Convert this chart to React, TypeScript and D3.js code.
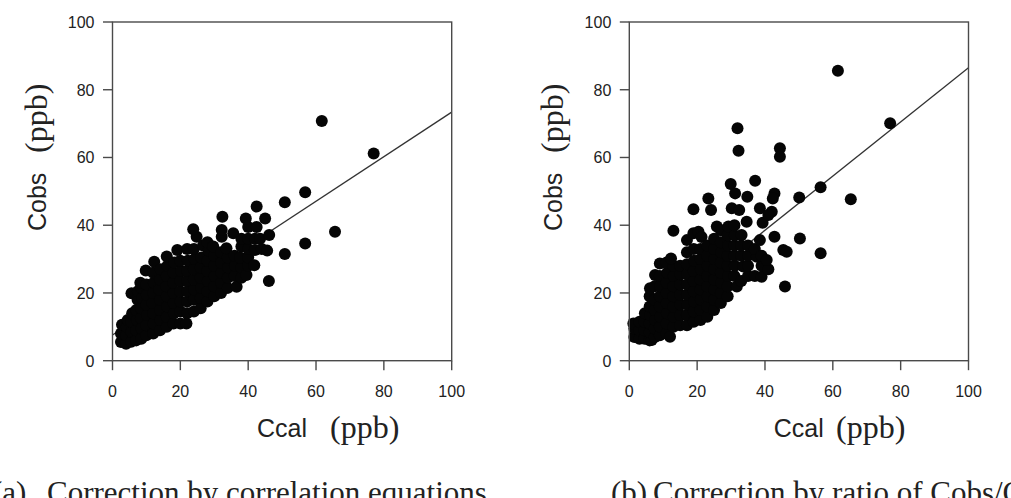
import React from "react";
import * as d3 from "d3";

// ---------- data ----------
const xTicks = [0, 20, 40, 60, 80, 100];
const yTicks = [0, 20, 40, 60, 80, 100];

// Panel (a): Correction by correlation equations  [Ccal, Cobs]
const panelAPoints: [number, number][] = [
  [2.5, 5.5], [2.5, 8], [2.8, 10.6], [4, 5], [4, 7.5], [4.2, 10], [4.5, 12],
  [5.5, 5.6], [5.6, 8.5], [5.5, 11.5], [5.8, 14], [5.6, 19.9],
  [7, 6], [7, 9], [7.2, 12], [7, 15], [7.4, 18], [7.5, 20.5],
  [8.5, 6.5], [8.6, 9.5], [8.4, 12.5], [8.5, 15.5], [8.7, 18.5], [8.5, 21.5], [8.2, 23],
  [10, 7.5], [10, 10.5], [10.2, 13.5], [10, 16.5], [10.1, 19.5], [10, 22.5], [9.8, 26.6],
  [12, 8], [12.1, 11], [12, 14], [11.8, 17], [12, 20], [12.2, 23], [12, 26], [12.3, 29.2],
  [14, 9], [14.1, 12], [14, 15], [14, 18], [13.8, 21], [14, 24], [14.2, 27],
  [16, 10], [16, 13], [16.1, 16], [16, 19], [15.9, 22], [16, 25], [16.2, 28], [16, 30.8],
  [18, 11], [18.1, 14], [18, 17], [18, 20], [17.9, 23], [18, 26], [18.2, 29], [19.1, 32.7],
  [20, 11], [20, 14.5], [20.1, 17.5], [20, 20.5], [20, 23.5], [20.2, 26.5], [20, 29.5],
  [21.8, 11], [22, 14], [22, 17.5], [22.1, 20.5], [22, 23.5], [22, 26.5], [22.2, 29.5], [22, 33],
  [24, 14.5], [24, 18], [24.1, 21], [24, 24], [24, 27], [24.2, 30], [24, 33], [24.8, 36.6], [23.8, 38.8],
  [26, 15.5], [26, 18.5], [26.1, 21.5], [26, 24.5], [26, 27.5], [26.2, 30.5], [26.7, 34],
  [28, 17.5], [28, 20.5], [28.1, 23.5], [28, 26.5], [28, 29.5], [28.3, 32.5], [28, 35],
  [30, 19], [30, 22], [30.1, 25], [30, 28], [30, 31], [29.7, 33.7],
  [32, 20], [32, 23], [32.1, 26], [32, 29], [32, 32], [32.2, 36.6], [32.2, 38.6], [32.4, 42.5],
  [34, 21.5], [34, 24.5], [34.1, 27.5], [34, 30.5], [33.6, 33.2], [35.6, 37.6],
  [36.6, 21.8], [36, 25], [36.1, 28], [36, 31],
  [38, 24.5], [38, 27.5], [37.6, 30.5], [38, 33.7], [38, 36],
  [39.5, 25.3], [40, 28], [40, 30.5], [40, 33], [40, 36], [40, 39.5], [39.3, 42],
  [41.8, 28.2], [42, 32.7], [42, 36], [42.5, 39.5], [42.5, 45.5],
  [43.5, 36], [44, 33], [45, 42], [45.6, 32.5], [46.2, 37.1], [46.1, 23.5],
  [50.8, 46.8], [50.8, 31.5], [56.8, 49.7], [56.8, 34.6], [61.7, 70.8], [65.6, 38.1], [77.0, 61.2],
];

// Panel (b): Correction by ratio of Cobs/Ccal  [Ccal, Cobs]
const panelBPoints: [number, number][] = [
  [1.5, 7], [1.5, 9.5], [1.2, 11], [3, 6.5], [3, 9], [3, 11.5],
  [4.5, 6.5], [4.5, 9], [4.5, 11.5], [4.6, 14],
  [6, 6], [6.6, 6.1], [6, 8.5], [6, 11], [6.1, 13.5], [6, 16], [6, 19], [6.1, 21.4],
  [7.5, 7], [7.5, 9.5], [7.6, 12], [7.5, 15], [7.5, 18], [7.5, 22], [7.6, 25.3],
  [9, 7.5], [9, 10], [9.1, 13], [9, 16], [9, 19], [9.1, 22], [9, 25], [9, 28.7],
  [11, 8], [11, 11], [11.1, 14], [11, 17], [11, 20], [11, 23], [11.2, 26], [11, 29],
  [12, 7.1], [13, 10], [13.1, 13], [13, 16], [13, 19], [13, 22], [13.1, 25], [13, 28], [12.3, 30.2], [13, 38.4],
  [15, 10.5], [15, 13.5], [15.1, 16.5], [15, 19.5], [15, 22.5], [15.1, 25.5], [15, 28],
  [17, 10.5], [17, 13.5], [17.1, 16.5], [17, 19.5], [17, 22.5], [17.1, 25.5], [17, 28.5], [17, 32], [17, 35.6],
  [19, 11.5], [19, 14.5], [19.1, 17.5], [19, 20.5], [19, 23.5], [19, 26.5], [19.1, 29.5], [19, 33], [18.9, 37.6], [18.9, 44.7],
  [20.4, 38.1],
  [21, 12], [21, 15], [21.1, 18], [21, 21], [21, 24], [21.1, 27], [21, 30], [21, 33], [21.3, 36.5],
  [23, 13], [23, 16], [23.1, 19], [23, 22], [23, 25], [23.1, 28], [23, 31], [23, 34], [23.3, 47.9],
  [25, 15], [25, 18], [25.1, 21], [25, 24], [25, 27], [25.1, 30], [25, 33], [25, 36], [25.8, 39.6], [24.1, 44.5],
  [27, 17], [27, 20], [27.1, 23], [27, 26], [27, 29], [27.1, 32], [27, 35], [27, 38.5],
  [29, 19], [29, 22], [29.1, 25], [29, 28], [29, 31], [29.1, 34], [29, 37], [29.2, 39.6],
  [31.7, 21.9], [31, 25], [31.1, 28], [31, 31], [31, 34], [31.1, 37], [31, 40], [30.2, 45], [31.2, 49.4],
  [33, 23.5], [33.6, 27.8], [33, 31], [33, 34], [33.1, 37.1], [34.6, 41], [32.4, 44.5],
  [35, 25], [35, 28], [35, 31], [35, 34], [34.8, 48.4],
  [37, 25], [37.6, 30.7], [37, 33],
  [39, 24.8], [39, 28], [39, 31], [38.5, 35.6], [39.3, 40.7], [38.5, 45],
  [41, 27], [40.5, 29.7], [42, 44], [41, 43],
  [42.8, 36.6], [42.8, 49.4], [42.3, 47.9],
  [61.5, 85.6], [76.9, 70.1], [31.9, 68.6], [32.2, 62.0], [44.4, 62.7], [44.4, 60.2],
  [29.9, 52.2], [37.1, 53.1], [56.4, 51.2], [50.1, 48.2], [65.3, 47.7], [50.3, 36.1],
  [45.4, 32.7], [46.4, 32.2], [56.4, 31.7], [45.9, 21.9],
];

// regression lines: [intercept, slope]
const lineA: [number, number] = [7.6, 0.658];
const lineB: [number, number] = [6.5, 0.8];

const captionA = ["(a)", "Correction by correlation equations"];
const captionB = ["(b)", "Correction by ratio of Cobs/Ccal"];

// ---------- layout ----------
const W = 1011;
const H = 498;
const TOP = 22;
const BOTTOM = 360.7;
const PLOT_W = 339.2;
const AXIS = "#4a4a4a";
const TEXT = "#222";
const SANS = "'Liberation Sans', Arial, Helvetica, sans-serif";
const SERIF = "'Liberation Serif', 'Times New Roman', serif";

type PanelProps = {
  left: number;
  points: [number, number][];
  line: [number, number];
  xTitleSerifX: number;
  caption: string[];
  captionX: [number, number];
};

function Panel({ left, points, line, xTitleSerifX, caption, captionX }: PanelProps) {
  const x = d3.scaleLinear().domain([0, 100]).range([left, left + PLOT_W]);
  const y = d3.scaleLinear().domain([0, 100]).range([BOTTOM, TOP]);
  const fitX = [0, 100];
  const path = d3
    .line<number>()
    .x((d) => x(d))
    .y((d) => y(line[0] + line[1] * d))(fitX) as string;
  const tick = 9.5;
  return (
    <g>
      {/* regression line (under the points) */}
      <path d={path} stroke="#333" strokeWidth={1.3} fill="none" />
      {/* points */}
      {points.map((p, i) => (
        <circle key={i} cx={x(p[0])} cy={y(p[1])} r={6} fill="#050505" />
      ))}
      {/* frame */}
      <rect
        x={x(0)}
        y={y(100)}
        width={x(100) - x(0)}
        height={y(0) - y(100)}
        fill="none"
        stroke={AXIS}
        strokeWidth={1.4}
      />
      {/* x ticks */}
      {xTicks.map((t) => (
        <g key={"x" + t}>
          <line x1={x(t)} x2={x(t)} y1={y(0)} y2={y(0) + tick} stroke={AXIS} strokeWidth={1.4} />
          <text
            x={x(t)}
            y={396.5}
            textAnchor="middle"
            fontFamily={SANS}
            fontSize={16}
            fill={TEXT}
          >
            {t}
          </text>
        </g>
      ))}
      {/* y ticks */}
      {yTicks.map((t) => (
        <g key={"y" + t}>
          <line x1={x(0) - tick} x2={x(0)} y1={y(t)} y2={y(t)} stroke={AXIS} strokeWidth={1.4} />
          <text
            x={x(0) - 18}
            y={y(t) + 6}
            textAnchor="end"
            fontFamily={SANS}
            fontSize={16}
            fill={TEXT}
          >
            {t}
          </text>
        </g>
      ))}
      {/* y title */}
      <text
        transform={`translate(${left - 67},231) rotate(-90)`}
        fontFamily={SANS}
        fontSize={25}
        fill={TEXT}
      >
        Cobs
      </text>
      <text
        transform={`translate(${left - 66},153) rotate(-90)`}
        fontFamily={SERIF}
        fontSize={32}
        fill={TEXT}
      >
        (ppb)
      </text>
      {/* x title */}
      <text x={left + 144.5} y={437} fontFamily={SANS} fontSize={25} fill={TEXT}>
        Ccal
      </text>
      <text x={xTitleSerifX} y={438} fontFamily={SERIF} fontSize={32} fill={TEXT}>
        (ppb)
      </text>
      {/* caption (cut by the bottom edge, as in the reference) */}
      <text x={captionX[0]} y={503} fontFamily={SERIF} fontSize={31} fill={TEXT}>
        {caption[0]}
      </text>
      <text x={captionX[1]} y={503} fontFamily={SERIF} fontSize={31} fill={TEXT}>
        {caption[1]}
      </text>
    </g>
  );
}

export default function App() {
  return (
    <svg
      width={W}
      height={H}
      viewBox={`0 0 ${W} ${H}`}
      style={{ position: "absolute", left: 0, top: 0, background: "#fff" }}
    >
      <rect x={0} y={0} width={W} height={H} fill="#fff" />
      <Panel
        left={112.5}
        points={panelAPoints}
        line={lineA}
        xTitleSerifX={330}
        caption={captionA}
        captionX={[-8, 47]}
      />
      <Panel
        left={629.3}
        points={panelBPoints}
        line={lineB}
        xTitleSerifX={836}
        caption={captionB}
        captionX={[611, 653]}
      />
    </svg>
  );
}
